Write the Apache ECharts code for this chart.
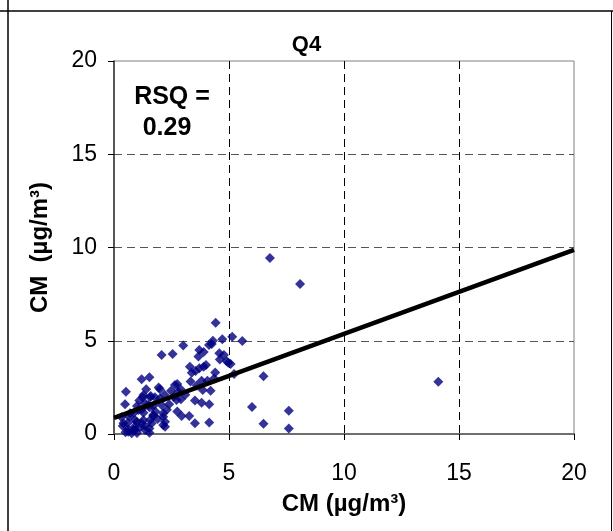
<!DOCTYPE html>
<html>
<head>
<meta charset="utf-8">
<script src="https://cdn.jsdelivr.net/npm/echarts@6/dist/echarts.min.js"></script>
<style>
html,body{margin:0;padding:0;background:#fff;}
#chart{width:613px;height:531px;}
</style>
</head>
<body>
<div id="chart"></div>
<script>
// Scatter points [x, y] (CM vs CM, µg/m³)
const pointsX = [6.78,8.09,14.1,5.58,6.5,6.0,7.6,6.5,7.6,
 4.42,5.14,4.71,4.25,4.13,3.01,3.71,2.07,2.55,4.58,3.67,4.78,4.97,5.07,4.0,3.71,3.55,3.38,5.22,4.35,4.06,3.81,3.33,4.9,3.9,
 1.2,1.54,1.94,2.0,2.75,2.48,2.8,0.52,3.86,4.2,1.25,1.57,1.78,2.0,2.91,3.52,3.81,4.14,0.48,1.35,2.07,1.54,2.75,2.94,3.27,1.2,0.87,1.71,2.14,0.33,0.67,1.28,0.99,1.64,2.14,3.52,4.14,0.38,0.62,0.84,1.13,1.35,1.54,0.77,
 1.28,1.6,2.65,2.72,1.49,1.06,0.7,1.28,1.71,2.14,0.41,0.91,1.2,1.57,2.22,0.62,0.91,1.35,2.22,1.54,1.0,0.5,2.2,2.4,
 1.1,1.4,1.8,0.9,1.7,2.3,3.1,3.6,4.4,4.6,3.3,2.9,0.6,1.9,2.6,1.0,4.3,3.9];
const pointsY = [9.44,8.04,2.8,4.99,3.1,1.45,1.25,0.55,0.3,
 5.97,5.22,5.08,4.83,4.77,4.74,4.5,4.24,4.29,4.33,4.15,4.24,3.82,3.75,3.7,3.52,3.38,3.29,3.22,2.98,2.86,2.86,2.82,3.9,3.6,
 2.93,3.04,2.5,2.4,2.68,2.32,2.27,2.27,2.36,2.32,1.97,1.97,1.97,1.91,1.86,1.79,1.68,1.59,1.59,1.65,1.55,1.43,1.2,0.97,0.97,1.32,1.14,0.97,0.93,0.9,0.93,0.75,0.66,0.57,0.48,0.57,0.61,0.43,0.12,0.21,0.36,0.43,0.07,0.04,
 2.09,2.04,2.63,1.82,1.55,1.29,1.11,1.14,1.02,1.11,0.57,0.75,0.57,0.75,0.66,0.25,0.21,0.21,0.39,0.3,0.05,0.1,2.1,1.6,
 1.8,2.4,1.2,0.4,1.5,1.3,2.1,2.6,3.3,4.0,3.6,2.4,0.6,0.8,2.0,1.5,5.0,4.4];
// Regression line endpoints
const fitX = [0, 20];
const fitY = [0.86, 9.87];
// Axis ticks
const xTicks = [0,5,10,15,20];
const yTicks = [0,5,10,15,20];
const rsqLine1 = 'RSQ =';
const rsqLine2 = '0.29';

const scatterData = pointsX.map((x,i)=>[x, pointsY[i]]);
const lineData = fitX.map((x,i)=>[x, fitY[i]]);

const chart = echarts.init(document.getElementById('chart'), null, {renderer:'canvas'});
const font = 'Arial, "Liberation Sans", sans-serif';
chart.setOption({
  animation:false,
  backgroundColor:'#fff',
  title:{text:'Q4', left:'center', top:34, padding:0, textStyle:{fontFamily:font, fontWeight:'bold', fontSize:22, color:'#000'}},
  grid:{left:114, right:39, top:61, bottom:97, show:true, borderColor:'#808080', borderWidth:1, backgroundColor:'#fff'},
  xAxis:{type:'value', min:xTicks[0], max:xTicks[xTicks.length-1], interval:5,
    name:'CM (µg/m³)', nameLocation:'middle', nameGap:58,
    nameTextStyle:{fontFamily:font, fontWeight:'bold', fontSize:24, color:'#000'},
    axisLine:{show:true, lineStyle:{color:'#6e6e6e', width:2}},
    axisTick:{show:true, inside:false, length:6, lineStyle:{color:'#000', width:1}},
    axisLabel:{fontFamily:font, fontSize:23, color:'#000', margin:28},
    splitLine:{show:true, showMinLine:false, showMaxLine:false, lineStyle:{color:'#000', type:[8,5], width:1}}
  },
  yAxis:{type:'value', min:yTicks[0], max:yTicks[yTicks.length-1], interval:5,
    name:'CM  (µg/m³)', nameLocation:'middle', nameGap:62, nameRotate:90,
    nameTextStyle:{fontFamily:font, fontWeight:'bold', fontSize:24, color:'#000'},
    axisLine:{show:true, lineStyle:{color:'#333', width:1.5}},
    axisTick:{show:true, inside:false, length:6, lineStyle:{color:'#000', width:1}},
    axisLabel:{fontFamily:font, fontSize:23, color:'#000', margin:17},
    splitLine:{show:true, showMinLine:false, showMaxLine:false, lineStyle:{color:'#555', type:[8,5], width:1}}
  },
  graphic:[
    {type:'line', shape:{x1:8,y1:0,x2:8,y2:531}, style:{stroke:'#000', lineWidth:1.5}},
    {type:'line', shape:{x1:0,y1:11,x2:613,y2:11}, style:{stroke:'#000', lineWidth:1.5}},
    {type:'line', shape:{x1:611.5,y1:11,x2:611.5,y2:531}, style:{stroke:'#000', lineWidth:1}},
    {type:'text', x:172, y:97, style:{text:rsqLine1, fontFamily:font, fontWeight:'bold', fontSize:25, fill:'#000', align:'center', verticalAlign:'middle'}},
    {type:'text', x:167, y:128, style:{text:rsqLine2, fontFamily:font, fontWeight:'bold', fontSize:25, fill:'#000', align:'center', verticalAlign:'middle'}}
  ],
  series:[
    {type:'scatter', data:scatterData, symbol:'diamond', symbolSize:10, itemStyle:{color:'#000080'}, z:2},
    {type:'line', data:lineData, symbol:'none', lineStyle:{color:'#000', width:4.5}, z:3}
  ]
});
</script>
</body>
</html>
